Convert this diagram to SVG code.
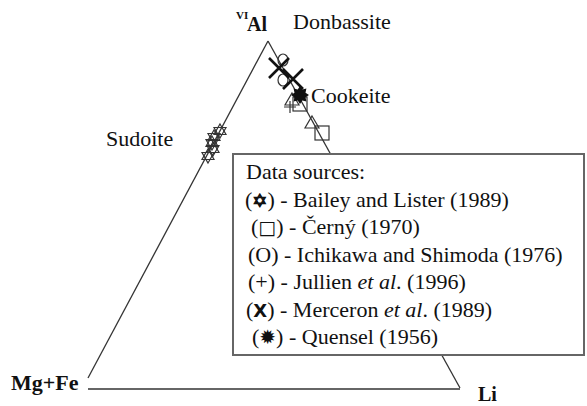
<svg xmlns="http://www.w3.org/2000/svg" width="587" height="406" viewBox="0 0 587 406">
<style>
.lbl{font-family:"Liberation Serif","Times New Roman",serif;font-size:22px;fill:#111}
.bold{font-weight:bold}
.ax{stroke:#333;stroke-width:1.3;fill:none}
.sym{stroke:#333;stroke-width:1.2;fill:none}
.x{stroke:#111;stroke-width:2.6;fill:none}
.sym2{font-family:"DejaVu Sans",sans-serif}
</style>
<defs>
<g id="hex"><polygon points="0,-7 6,3.5 -6,3.5" class="sym"/><polygon points="0,7 6,-3.5 -6,-3.5" class="sym"/></g>
<g id="sq"><rect x="-7" y="-7" width="14" height="14" class="sym" fill="none"/></g>
<g id="tri"><polygon points="0,-7 7,5 -7,5" class="sym"/></g>
<g id="circ"><ellipse cx="0" cy="0" rx="5" ry="6" class="sym"/></g>
<g id="xm"><path d="M-10,-10 L10,10 M10,-10 L-10,10" class="x"/></g>
<g id="plus"><path d="M-6,0 H6 M0,-6 V6" class="sym"/></g>
<g id="burst"><polygon points="0,-9 2.3,-5.5 6.4,-6.4 5.5,-2.3 9,0 5.5,2.3 6.4,6.4 2.3,5.5 0,9 -2.3,5.5 -6.4,6.4 -5.5,2.3 -9,0 -5.5,-2.3 -6.4,-6.4 -2.3,-5.5" fill="#111"/></g>
</defs>
<g id="connectors">
<line x1="268" y1="41" x2="88" y2="378" class="ax"/>
<line x1="268" y1="41" x2="460" y2="388" class="ax"/>
<line x1="88" y1="389" x2="460" y2="389" class="ax"/>
</g>
<g id="data-points">
<use href="#hex" x="220" y="131"/>
<use href="#hex" x="214" y="137"/>
<use href="#hex" x="212" y="143"/>
<use href="#hex" x="213" y="149"/>
<use href="#hex" x="208" y="156"/>
<use href="#circ" x="283" y="60"/>
<use href="#circ" x="283" y="80"/>
<use href="#xm" x="279" y="68"/>
<use href="#xm" x="293" y="79"/>
<use href="#sq" x="300" y="104"/>
<use href="#tri" x="292" y="100"/>
<use href="#plus" x="290" y="107"/>
<use href="#burst" x="300" y="95"/>
<use href="#tri" x="312" y="123"/>
<use href="#sq" x="322" y="133"/>
</g>
<g id="vertex-al"><text class="lbl bold" x="236" y="19" style="font-size:11px">VI</text><text class="lbl bold" x="247" y="31" style="font-size:20px">Al</text></g>
<g id="vertex-mgfe"><text class="lbl bold" x="11" y="390">Mg+Fe</text></g>
<g id="vertex-li"><text class="lbl bold" x="478" y="401" style="font-size:20px">Li</text></g>
<g id="label-donbassite"><text class="lbl" x="293" y="29">Donbassite</text></g>
<g id="label-cookeite"><text class="lbl" x="311" y="103">Cookeite</text></g>
<g id="label-sudoite"><text class="lbl" x="106" y="146">Sudoite</text></g>
<g id="legend">
<rect x="233" y="154" width="351" height="201" fill="#fff" stroke="#666" stroke-width="2"/>
<text class="lbl" x="246" y="179">Data sources:</text>
<text class="lbl" x="245" y="206.5">(<tspan class="sym2" font-size="18" font-weight="bold" stroke="#111" stroke-width="0.8">✡</tspan>) - Bailey and Lister (1989)</text>
<text class="lbl" x="251" y="234">(<tspan class="sym2" font-size="19">□</tspan>) - Černý (1970)</text>
<text class="lbl" x="248" y="261.5">(O) - Ichikawa and Shimoda (1976)</text>
<text class="lbl" x="248" y="289">(+)  - Jullien <tspan font-style="italic">et al</tspan>. (1996)</text>
<text class="lbl" x="246" y="316.5">(<tspan class="sym2" font-size="18" font-weight="bold">X</tspan>)  - Merceron <tspan font-style="italic">et al</tspan>. (1989)</text>
<text class="lbl" x="252" y="344">(<tspan class="sym2" font-size="20">✹</tspan>) - Quensel (1956)</text>
</g>
</svg>
